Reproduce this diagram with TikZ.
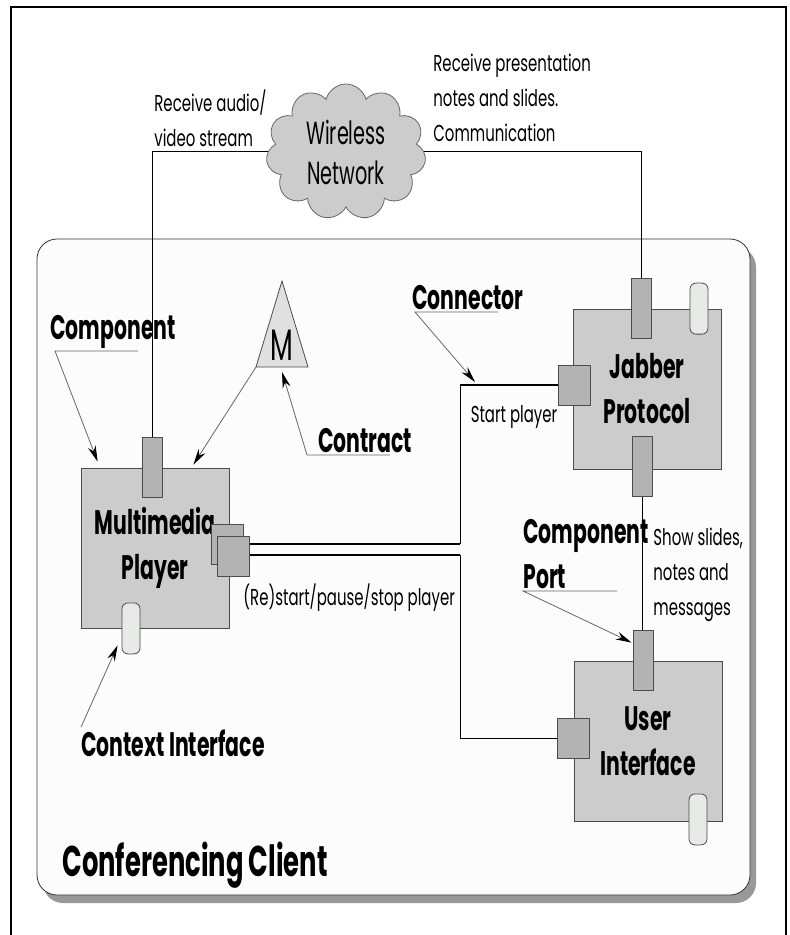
\documentclass[tikz,border=0pt]{standalone}
\usepackage{fontspec}
\setmainfont{Poppins}[FakeStretch=0.65]
\newfontfamily\narrowfont{Poppins}[FakeStretch=0.6]
\usetikzlibrary{shapes.symbols,shadows,arrows.meta,calc}

\definecolor{boxgray}{HTML}{CCCCCC}
\definecolor{portgray}{HTML}{B3B3B3}
\definecolor{pillgray}{HTML}{E8EAE8}
\definecolor{clientbg}{HTML}{FCFCFC}

\tikzset{
  comp/.style={draw=black!70, fill=boxgray, minimum width=74pt, minimum height=80pt,
    align=center, font=\narrowfont\bfseries\fontsize{17}{22.5}\selectfont},
  port/.style={draw=black!70, fill=portgray, inner sep=0pt},
  vport/.style={port, minimum width=10pt, minimum height=30pt},
  hport/.style={port, minimum width=16pt, minimum height=20pt},
  pill/.style={draw=black!70, fill=pillgray, rounded corners=3pt, inner sep=0pt,
    minimum width=9pt, minimum height=25.5pt},
  txt/.style={font=\fontsize{11.5}{17.5}\selectfont, align=left, inner sep=1pt},
  tag/.style={font=\narrowfont\bfseries\fontsize{17}{22.5}\selectfont, align=left, inner sep=1pt},
  pointer/.style={black!60, line width=0.4pt, -{Stealth[length=8pt,width=4pt,black]}},
  wire/.style={line width=0.5pt},
  conn/.style={line width=1.4pt},
}

\begin{document}
\begin{tikzpicture}[x=0.5pt,y=-0.5pt]
  \useasboundingbox (0,0) rectangle (790,935);
  \fill[white] (0,0) rectangle (790,935);
  \draw[line width=1pt] (11,935) -- (11,7) -- (786,7) -- (786,935);

  % conferencing client
  \draw[black!80, fill=clientbg, rounded corners=10pt,
    drop shadow={shadow xshift=3pt, shadow yshift=-4pt, fill=black!40, opacity=1}]
    (37,239) rectangle (750,895);
  \node[tag, anchor=west, font=\narrowfont\bfseries\fontsize{21.5}{26}\selectfont] (client) at (60,865) {Conferencing Client};

  % network
  \node[cloud, cloud puffs=11, cloud ignores aspect, draw=black!60, fill=boxgray,
    minimum width=80pt, minimum height=68pt, align=center,
    font=\narrowfont\fontsize{16}{20}\selectfont] (wnet) at (346,152) {Wireless\\Network};

  % components
  \node[comp] (player) at (155,548) {Multimedia\\Player};
  \node[comp] (jabber) at (647,389) {Jabber\\Protocol};
  \node[comp] (ui) at (648,741) {User\\Interface};

  % ports
  \node[vport] (ptop) at ($(player.north)+(-3,0)$) {};
  \node[hport] (pback) at ($(player.east)+(-2,-4)$) {};
  \node[hport] (pfront) at ($(player.east)+(4,8)$) {};
  \node[pill] (pctx) at ($(player.south)+(-24,0)$) {};
  \node[vport] (jtop) at ($(jabber.north)+(-6,0)$) {};
  \node[pill] (jctx) at ($(jabber.north)+(52,0)$) {};
  \node[hport] (jleft) at ($(jabber.west)+(2,-4)$) {};
  \node[vport] (jbot) at ($(jabber.south)+(-5,-3)$) {};
  \node[vport] (utop) at ($(ui.north)+(-5,0)$) {};
  \node[hport] (uleft) at ($(ui.west)+(0,-3)$) {};
  \node[pill] (uctx) at ($(ui.south)+(50,-2)$) {};

  % contract
  \coordinate (mtip) at (282,281);
  \coordinate (mleft) at (256,367);
  \coordinate (mright) at (308,367);
  \coordinate (mbase) at (282,372);
  \draw[black!70, fill=black!12] (mtip) -- (mright) -- (mleft) -- cycle;
  \node[font=\narrowfont\fontsize{22}{24}\selectfont, inner sep=0pt] (mlbl) at (282,345) {M};

  % wires
  \draw[wire] (ptop.north) |- (wnet.west);
  \draw[wire] (jtop.north) |- (wnet.east);
  \draw[wire] (jbot.south) -- (jbot.south |- utop.north);

  % connectors
  \coordinate (busx) at (460,600);
  \coordinate (bendB) at (460,544);
  \coordinate (bendC) at (460,555);
  \draw[conn] (jleft.west) -- (jleft.west -| busx);
  \draw[wire] (jleft.west -| busx) -- (bendB);
  \draw[conn] (bendB) -- (bendB -| pfront.east);
  \draw[conn] (bendC -| pfront.east) -- (bendC);
  \draw[wire] (bendC) -- (uleft.west -| busx) -- (uleft.west);

  % labels
  \node[txt, anchor=west] (laudio) at (152,118) {Receive audio/\\video stream};
  \node[txt, anchor=west] (lpres) at (431,98) {Receive presentation\\notes and slides.\\Communication};
  \node[txt] (lstart) at (514,417) {Start player};
  \node[txt, anchor=west] (lrestart) at (241,598) {(Re)start/pause/stop player};
  \node[txt, anchor=west] (lshow) at (651,575) {Show slides,\\notes and\\messages};

  % annotations
  \node[tag, anchor=south west] (lcomp) at (48,351) {Component};
  \draw[pointer] ($(lcomp.south west)+(90,0)$) -- ($(lcomp.south west)+(7,0)$)
    -- ($(player.north west)+(17,-6)$);
  \draw[pointer] (mleft) -- ($(player.north east)+(-36,-3)$);
  \node[tag, anchor=south west] (lcontract) at (316,455) {Contract};
  \draw[pointer] ($(lcontract.south west)+(74,0)$) -- ($(lcontract.south west)+(-9,0)$) -- (mbase);
  \node[tag, anchor=south west] (lconn) at (410,312) {Connector};
  \draw[pointer] ($(lconn.south west)+(88,0)$) -- ($(lconn.south west)+(5,0)$)
    -- ($(jleft.west -| busx)+(15,-3)$);
  \node[tag, anchor=south west] (lport) at (521,591) {Component\\Port};
  \draw[pointer] ($(lport.south west)+(96,0)$) -- ($(lport.south west)+(2,0)$)
    -- ($(utop.west)+(-1,-18)$);
  \node[tag, anchor=west] (lctx) at (79,743) {Context Interface};
  \draw[pointer] ($(lctx.north west)+(2,0)$) -- ($(pctx.south west)+(-4,-9)$);
\end{tikzpicture}
\end{document}
